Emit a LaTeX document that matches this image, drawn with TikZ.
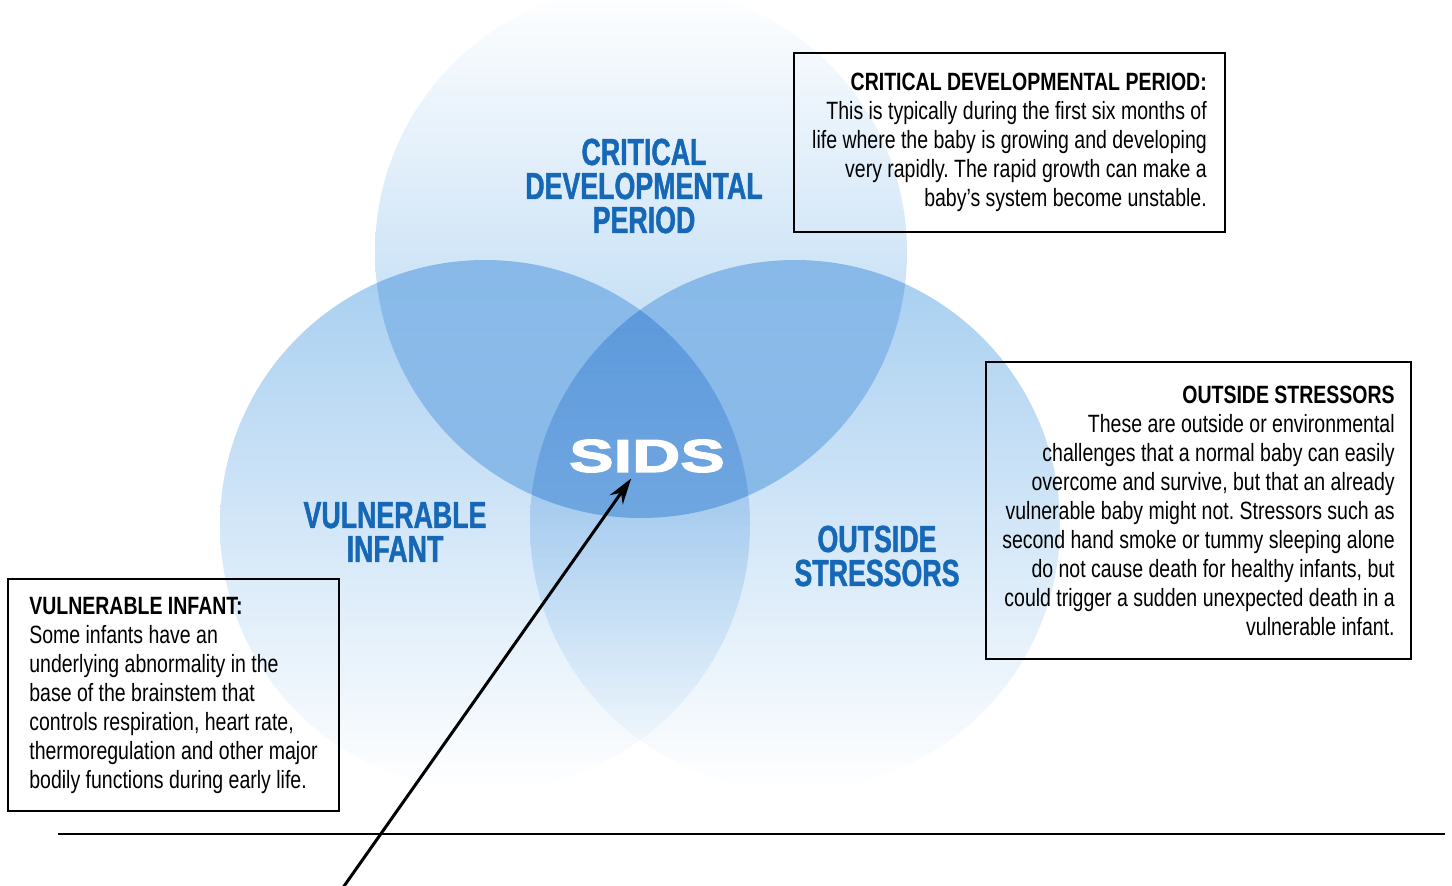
\documentclass[tikz,border=0pt]{standalone}
\usepackage{fontspec}
\setmainfont{Liberation Sans}[FakeStretch=0.78]
\newfontfamily\labelfont{Liberation Sans}[FakeStretch=0.71,FakeBold=1.2]
\newfontfamily\sidsfont{Liberation Sans}[FakeStretch=1.45,FakeBold=3]
\usetikzlibrary{arrows.meta}
\definecolor{venn}{RGB}{166,206,240}
\definecolor{labelblue}{RGB}{22,104,182}
\frenchspacing

\begin{document}
\begin{tikzpicture}[x=1pt,y=-1pt]
\tikzstyle{every node}+=[inner sep=0pt]
\tikzstyle{area}=[blend mode=multiply]
\tikzstyle{title}=[font=\labelfont\bfseries\fontsize{37.7}{34}\selectfont, text=labelblue, align=center]
\tikzstyle{infobox}=[draw=black, line width=1.6pt, font=\fontsize{25}{29}\selectfont]
\tikzstyle{pointer}=[line width=3pt, -{Stealth[length=26pt,width=16pt]}]
\useasboundingbox (0,0) rectangle (1452,886);
\fill [white] (0,0) rectangle (1452,886);
% the three circles
\shade [area, top color=white, middle color=venn!80, bottom color=venn] (641,252) circle (266pt);
\shade [area, top color=venn, middle color=venn!88, bottom color=white] (485,525) circle (265pt);
\shade [area, top color=venn, middle color=venn!88, bottom color=white] (795,525) circle (265pt);
% circle labels
\node [title] (critical) at (644,186) {CRITICAL\\DEVELOPMENTAL\\PERIOD};
\node [title] (vulnerable) at (395,532) {VULNERABLE\\INFANT};
\node [title] (outside) at (877,556) {OUTSIDE\\STRESSORS};
\node [font=\sidsfont\bfseries\fontsize{46}{46}\selectfont, text=white, inner ysep=6pt] (sids) at (647,456) {SIDS};
% boxes
\node [infobox, align=right, minimum width=431pt, minimum height=179pt] (criticalbox) at (1009.5,142.5) {\textbf{CRITICAL DEVELOPMENTAL PERIOD:}\\This is typically during the first six months of\\life where the baby is growing and developing\\very rapidly. The rapid growth can make a\\baby's system become unstable.};
\node [infobox, align=right, minimum width=425pt, minimum height=297pt] (outsidebox) at (1198.5,510.5) {\textbf{OUTSIDE STRESSORS}\\These are outside or environmental\\challenges that a normal baby can easily\\overcome and survive, but that an already\\vulnerable baby might not. Stressors such as\\second hand smoke or tummy sleeping alone\\do not cause death for healthy infants, but\\could trigger a sudden unexpected death in a\\vulnerable infant.};
\node [infobox, align=left, minimum width=331pt, minimum height=232pt] (vulnerablebox) at (173.5,695) {\textbf{VULNERABLE INFANT:}\\Some infants have an\\underlying abnormality in the\\base of the brainstem that\\controls respiration, heart rate,\\thermoregulation and other major\\bodily functions during early life.};
% rule and arrow
\coordinate (ruleL) at (58,834);
\coordinate (ruleR) at (1445,834);
\draw [line width=1.8pt] (ruleL) -- (ruleR);
\coordinate (foot) at (342,889);
\draw [pointer] (foot) -- (sids);
\end{tikzpicture}
\end{document}
